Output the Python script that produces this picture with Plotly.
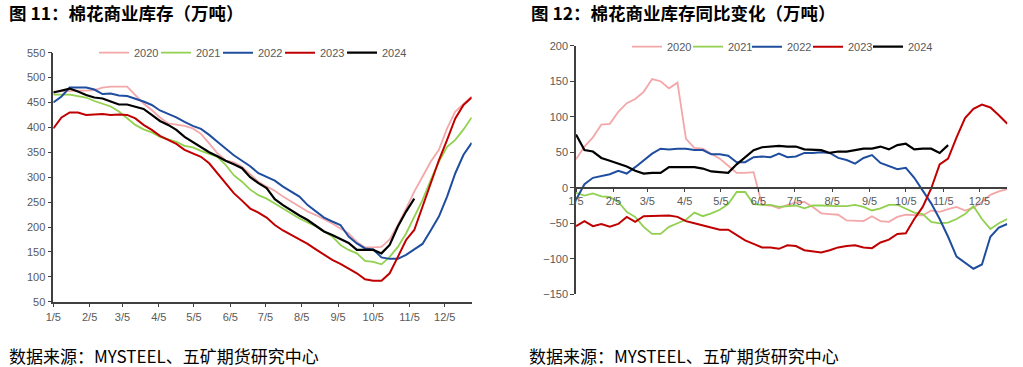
import plotly.graph_objects as go
import pandas as pd

# ---------------- data ----------------
WEEKS = pd.date_range("2023-01-05", periods=52, freq="7D")
TICK_DATES = ["2023-01-05", "2023-02-05", "2023-03-05", "2023-04-05", "2023-05-05", "2023-06-05",
              "2023-07-05", "2023-08-05", "2023-09-05", "2023-10-05", "2023-11-05", "2023-12-05"]
TICK_LABELS = ["1/5", "2/5", "3/5", "4/5", "5/5", "6/5", "7/5", "8/5", "9/5", "10/5", "11/5", "12/5"]
YEARS = ["2020", "2021", "2022", "2023", "2024"]

# Fig 11: commercial cotton inventory (10k t)
INV_2020 = [472, 473, 474, 474, 474, 475, 480, 482, 482, 482, 465, 448, 435, 420, 408, 405, 403, 398, 387, 368,
            348, 334, 330, 321, 306, 291, 281, 273, 261, 251, 241, 231, 224, 216, 207, 197, 187, 170, 159, 159,
            160, 175, 204, 237, 271, 301, 331, 355, 398, 432, 448, 462]
INV_2021 = [466, 466, 466, 463, 460, 453, 448, 442, 432, 418, 405, 396, 390, 381, 376, 371, 363, 360, 353, 347,
            341, 325, 304, 291, 275, 264, 257, 247, 237, 227, 217, 209, 201, 191, 181, 164, 154, 147, 132, 130,
            125, 140, 160, 187, 221, 254, 294, 331, 361, 375, 396, 420]
INV_2022 = [450, 462, 480, 480, 480, 476, 467, 468, 464, 463, 458, 452, 445, 434, 427, 420, 411, 403, 397, 385,
            371, 358, 344, 333, 322, 308, 301, 293, 281, 271, 261, 244, 231, 219, 211, 204, 181, 167, 157, 155,
            139, 136, 136, 144, 155, 166, 193, 221, 261, 308, 345, 369]
INV_2023 = [398, 420, 430, 430, 425, 426, 427, 425, 426, 425, 418, 405, 395, 383, 375, 367, 355, 348, 341, 328,
            308, 288, 268, 253, 237, 229, 219, 204, 193, 184, 175, 166, 155, 144, 134, 126, 117, 107, 95, 92,
            92, 107, 140, 174, 194, 241, 291, 334, 375, 418, 445, 460]
INV_2024 = [470, 474, 478, 472, 465, 460, 458, 452, 446, 446, 442, 437, 425, 413, 405, 395, 381, 371, 361, 350,
            342, 333, 326, 318, 300, 288, 278, 256, 244, 233, 223, 214, 202, 191, 184, 176, 168, 154, 154, 154,
            147, 164, 201, 231, 257, None, None, None, None, None, None, None]

# Fig 12: year-on-year change (10k t)
YOY_2020 = [40, 58, 71, 89, 90, 107, 119, 125, 135, 153, 150, 140, 148, 69, 56, 55, 48, 41, 31, 21,
            21, 22, -24, -25, -29, -24, -21, -20, -27, -36, -37, -38, -46, -47, -47, -40, -47, -48, -41, -38,
            -39, -39, -32, -34, -30, -27, -32, -28, -20, -10, -5, -2]
YOY_2021 = [-7, -11, -8, -12, -13, -20, -34, -41, -55, -65, -65, -55, -50, -45, -35, -40, -36, -31, -23, -6,
            -6, -23, -24, -24, -27, -26, -25, -29, -25, -25, -26, -26, -26, -24, -27, -32, -29, -24, -24, -29,
            -35, -37, -48, -50, -49, -44, -37, -26, -44, -58, -50, -44]
YOY_2022 = [-17, 5, 14, 16, 19, 24, 20, 29, 38, 48, 55, 54, 55, 55, 53, 53, 47, 47, 45, 36,
            36, 43, 44, 43, 48, 43, 44, 49, 49, 50, 49, 42, 39, 34, 42, 46, 35, 31, 26, 28,
            14, -4, -22, -44, -69, -97, -106, -114, -108, -69, -56, -51]
YOY_2023 = [-54, -47, -54, -51, -55, -51, -41, -48, -40, -40, -40, -39, -41, -47, -50, -53, -56, -59, -59, -67,
            -74, -79, -84, -84, -86, -81, -82, -88, -90, -91, -88, -84, -82, -81, -84, -85, -77, -73, -65, -64,
            -44, -27, -1, 33, 41, 71, 98, 111, 117, 113, 102, 90]
YOY_2024 = [75, 53, 51, 42, 38, 34, 30, 24, 20, 21, 21, 29, 29, 28, 29, 27, 23, 22, 21, 33,
            43, 53, 57, 58, 59, 58, 58, 54, 54, 53, 49, 51, 51, 53, 55, 55, 58, 54, 60, 62,
            54, 55, 55, 49, 60, None, None, None, None, None, None, None]

# ---------------- styles ----------------
COLORS = ["#F4A7A9", "#92D050", "#1F4E9F", "#C00000", "#000000"]
WIDTHS = [1.8, 1.8, 2.0, 2.0, 2.2]
AX = "#404040"
TXT = "#595959"
FONT = "Liberation Sans, Arial, Noto Sans CJK SC"
W, H = 1023, 367

# legend line start positions (px) for each year, per chart
LEG1_X = [103, 165, 227, 289, 351]
LEG2_X = [636, 697, 756, 817, 877]


def px_x(v):
    return v / W


def px_y(v):
    return 1 - v / H


fig = go.Figure()
inv = [INV_2020, INV_2021, INV_2022, INV_2023, INV_2024]
yoy = [YOY_2020, YOY_2021, YOY_2022, YOY_2023, YOY_2024]
legends = {}
k = 0
for name, vals, c, w, lx in zip(YEARS, inv, COLORS, WIDTHS, LEG1_X):
    k += 1
    lid = "legend" if k == 1 else f"legend{k}"
    fig.add_trace(go.Scatter(x=WEEKS, y=vals, name=name, mode="lines",
                             line=dict(color=c, width=w), xaxis="x", yaxis="y",
                             legend=lid, connectgaps=False))
    legends[lid] = dict(x=px_x(lx - 9), y=px_y(52.7))
for name, vals, c, w, lx in zip(YEARS, yoy, COLORS, WIDTHS, LEG2_X):
    k += 1
    lid = f"legend{k}"
    fig.add_trace(go.Scatter(x=WEEKS, y=vals, name=name, mode="lines",
                             line=dict(color=c, width=w), xaxis="x2", yaxis="y2",
                             legend=lid, connectgaps=False))
    legends[lid] = dict(x=px_x(lx - 9), y=px_y(46.7))

xcommon = dict(type="date", range=[WEEKS[0], WEEKS[-1]], tickmode="array",
               tickvals=TICK_DATES, ticktext=TICK_LABELS, showgrid=False, zeroline=False,
               showline=True, linecolor=AX, linewidth=1.5, ticks="outside", ticklen=4,
               tickcolor=AX, tickwidth=1, automargin=False,
               tickfont=dict(size=11, color=TXT, family=FONT))
ycommon = dict(showgrid=False, zeroline=False, showline=True, linecolor=AX, linewidth=1.5,
               ticks="outside", ticklen=4, tickcolor=AX, tickwidth=1, dtick=50, automargin=False,
               tickfont=dict(size=11, color=TXT, family=FONT))

layout = dict(
    width=W, height=H, margin=dict(l=0, r=0, t=0, b=0, autoexpand=False),
    paper_bgcolor="white", plot_bgcolor="white",
    font=dict(family=FONT, color=TXT),
    xaxis=dict(domain=[px_x(53.3), px_x(471.7)], anchor="y", **xcommon),
    yaxis=dict(domain=[px_y(301.7), px_y(52.7)], range=[50, 550], anchor="x", **ycommon),
    xaxis2=dict(domain=[px_x(576), px_x(1007.3)], anchor="free",
                position=px_y(187.5), **xcommon),
    yaxis2=dict(domain=[px_y(294.3), px_y(45.7)], range=[-150, 200], anchor="x2", **ycommon),
    showlegend=True,
)
for lid, pos in legends.items():
    layout[lid] = dict(orientation="h", x=pos["x"], y=pos["y"], xanchor="left", yanchor="middle",
                       bgcolor="rgba(0,0,0,0)", borderwidth=0,
                       font=dict(size=11, color=TXT, family=FONT), itemclick=False)
fig.update_layout(**layout)

TITLE_FONT = dict(family="Noto Sans CJK SC", size=17.5, color="#000000", weight="bold")
NOTE_FONT = dict(family="Noto Sans CJK SC", size=17, color="#000000")
fig.add_annotation(text="图 11：棉花商业库存（万吨）", x=px_x(7), y=px_y(12), xref="paper", yref="paper",
                   xanchor="left", yanchor="middle", showarrow=False, font=TITLE_FONT)
fig.add_annotation(text="图 12：棉花商业库存同比变化（万吨）", x=px_x(529), y=px_y(12), xref="paper", yref="paper",
                   xanchor="left", yanchor="middle", showarrow=False, font=TITLE_FONT)
fig.add_annotation(text="数据来源：MYSTEEL、五矿期货研究中心", x=px_x(7), y=px_y(355), xref="paper", yref="paper",
                   xanchor="left", yanchor="middle", showarrow=False, font=NOTE_FONT)
fig.add_annotation(text="数据来源：MYSTEEL、五矿期货研究中心", x=px_x(527), y=px_y(355), xref="paper", yref="paper",
                   xanchor="left", yanchor="middle", showarrow=False, font=NOTE_FONT)

fig.write_html("out.html", config=dict(displayModeBar=False),
               post_script="document.body.style.margin='0px';")
